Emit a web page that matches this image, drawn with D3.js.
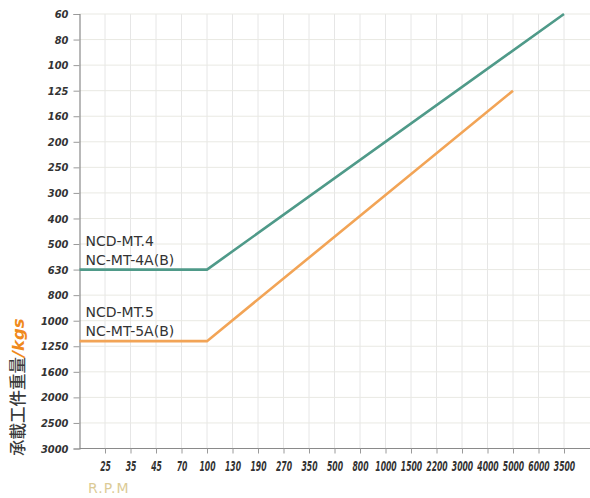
<!DOCTYPE html>
<html>
<head>
<meta charset="utf-8">
<script src="https://cdn.jsdelivr.net/npm/d3@7"></script>
<style>
  html, body { margin: 0; padding: 0; background: #fff; }
  svg { display: block; }
</style>
</head>
<body>
<svg id="chart" width="590" height="498"></svg>
<script>
// ---- data ----
const xLabels = ["25","35","45","70","100","130","190","270","350","500","800","1000","1500","2200","3000","4000","5000","6000","3500"];
const yLabels = [60,80,100,125,160,200,250,300,400,500,630,800,1000,1250,1600,2000,2500,3000];
const seriesNames = ["NCD-MT.4 / NC-MT-4A(B)", "NCD-MT.5 / NC-MT-5A(B)"];
const seriesGreenRpm  = ["origin","100","3500"];
const seriesGreenLoad = [630, 630, 60];
const seriesOrangeRpm  = ["origin","100","5000"];
const seriesOrangeLoad = [1200, 1200, 125];
const labelGreen  = ["NCD-MT.4", "NC-MT-4A(B)"];
const labelOrange = ["NCD-MT.5", "NC-MT-5A(B)"];

const svg = d3.select("#chart");
const mLeft = 79.5, mTop = 14, mBottom = 448.5, mRight = 590;

// x: categorical points, with an unlabeled origin category at the axis
const x = d3.scalePoint().domain(["origin", ...xLabels]).range([mLeft, 564]);
// y: piecewise scale, labels evenly spaced
const yRange = yLabels.map((d, i) => mTop + i * (mBottom - mTop) / (yLabels.length - 1));
const y = d3.scaleLinear().domain(yLabels).range(yRange);

// grid
const grid = svg.append("g");
grid.selectAll("line.v").data(xLabels).join("line")
  .attr("x1", d => x(d)).attr("x2", d => x(d))
  .attr("y1", mTop).attr("y2", mBottom)
  .attr("stroke", "#e6e6e6").attr("stroke-width", 1);
grid.selectAll("line.h").data(yLabels.slice(0, -1)).join("line")
  .attr("x1", mLeft).attr("x2", mRight)
  .attr("y1", d => y(d)).attr("y2", d => y(d))
  .attr("stroke", "#e9e9e3").attr("stroke-width", 1);

// axes
const xAxis = svg.append("g").attr("transform", `translate(0,${mBottom})`)
  .call(d3.axisBottom(x).tickValues(xLabels).tickSize(5).tickPadding(8));
xAxis.select(".domain").attr("d", `M${mLeft},0H${mRight}`);
const yAxis = svg.append("g").attr("transform", `translate(${mLeft},0)`)
  .call(d3.axisLeft(y).tickValues(yLabels).tickFormat(d3.format("d")).tickSize(6).tickPadding(5));

[xAxis, yAxis].forEach(a => {
  a.select(".domain").attr("stroke", "#8a8a8a").attr("stroke-width", 1.2);
  a.selectAll(".tick line").attr("stroke", "#9a9a9a");
  a.selectAll(".tick text")
    .attr("fill", "#333")
    .style("font-family", "'DejaVu Sans', sans-serif")
    .style("font-weight", "bold").style("font-style", "italic");
});
xAxis.selectAll(".tick text")
  .style("font-size", "14px")
  .attr("transform", "scale(0.55,1)");
yAxis.selectAll(".tick text")
  .style("font-family", "'DejaVu Sans Condensed', 'DejaVu Sans', sans-serif")
  .style("font-size", "11px");

// lines
const line = d3.line().x(d => x(d[0])).y(d => y(d[1]));
const green = d3.zip(seriesGreenRpm, seriesGreenLoad);
const orange = d3.zip(seriesOrangeRpm, seriesOrangeLoad);
svg.append("path").datum(green).attr("d", line)
  .attr("fill", "none").attr("stroke", "#4f9a89").attr("stroke-width", 2.6);
svg.append("path").datum(orange).attr("d", line)
  .attr("fill", "none").attr("stroke", "#f2a456").attr("stroke-width", 2.6);

// series labels
function seriesLabel(lines, load) {
  const base = y(load);
  svg.append("g").selectAll("text").data(lines).join("text")
    .attr("x", mLeft + 6)
    .attr("y", (d, i) => base - 5 - (lines.length - 1 - i) * 19)
    .text(d => d)
    .attr("fill", "#333")
    .style("font-family", "'DejaVu Sans', sans-serif")
    .style("font-size", "14px");
}
seriesLabel(labelGreen, seriesGreenLoad[0]);
seriesLabel(labelOrange, seriesOrangeLoad[0]);

// axis titles
svg.append("text").attr("x", 88).attr("y", 493).text("R.P.M")
  .attr("fill", "#dccb96")
  .style("letter-spacing", "1px")
  .style("font-family", "'DejaVu Sans', sans-serif").style("font-size", "14px");

const yt = svg.append("text")
  .attr("transform", "translate(24,456) rotate(-90)")
  .style("font-size", "16.5px");
yt.append("tspan").text("承載工件重量").attr("fill", "#3a3a3a")
  .style("font-family", "'Noto Sans CJK TC', sans-serif").style("font-weight", "500");
yt.append("tspan").text("/kgs").attr("fill", "#f08a1c")
  .style("font-family", "'DejaVu Sans', sans-serif")
  .style("font-weight", "bold").style("font-style", "italic");
</script>
</body>
</html>
